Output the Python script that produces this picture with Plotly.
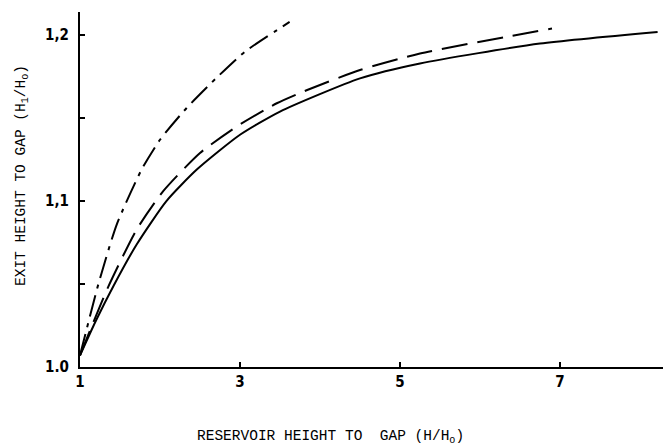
import plotly.graph_objects as go

# Data
solid_x = [1.0, 1.2, 1.42, 1.71, 2.08, 2.46, 3.0, 3.5, 4.5, 5.25, 6.75, 8.22]
solid_y = [1.007, 1.028, 1.049, 1.074, 1.100, 1.119, 1.140, 1.154, 1.174, 1.183, 1.195, 1.202]

dashed_x = [1.0, 1.35, 1.71, 2.04, 2.5, 2.96, 3.46, 3.84, 4.5, 5.25, 6.9]
dashed_y = [1.007, 1.048, 1.083, 1.106, 1.129, 1.145, 1.159, 1.167, 1.179, 1.189, 1.204]

dashdot_x = [1.0, 1.23, 1.46, 1.77, 2.0, 2.33, 2.7, 3.06, 3.62]
dashdot_y = [1.007, 1.05, 1.086, 1.119, 1.137, 1.156, 1.174, 1.19, 1.208]

x_ticks = [1, 3, 5, 7]
x_ticklabels = ["1", "3", "5", "7"]
y_ticks = [1.0, 1.1, 1.2]
y_ticklabels = ["1.0", "1,1", "1,2"]

x_title = "RESERVOIR HEIGHT TO  GAP (H/H<sub>o</sub>)"
y_title = "EXIT HEIGHT TO GAP (H<sub>1</sub>/H<sub>o</sub>)"

tick_font = dict(family="Liberation Sans Narrow, DejaVu Sans Condensed, Arial Narrow", size=15, color="black", weight="bold")
title_font = dict(family="Liberation Mono, Courier New, monospace", size=14.5, color="black")

fig = go.Figure()
fig.add_trace(go.Scatter(x=solid_x, y=solid_y, mode="lines",
                         line=dict(color="black", width=2, shape="spline", smoothing=0.6)))
fig.add_trace(go.Scatter(x=dashed_x, y=dashed_y, mode="lines",
                         line=dict(color="black", width=2, shape="spline", smoothing=0.6, dash="26px,10px")))
fig.add_trace(go.Scatter(x=dashdot_x, y=dashdot_y, mode="lines",
                         line=dict(color="black", width=2, shape="spline", smoothing=0.6, dash="22px,7px,4px,7px")))

fig.update_layout(
    width=663, height=448,
    margin=dict(l=80, r=0, t=12, b=81),
    paper_bgcolor="white", plot_bgcolor="white",
    showlegend=False,
    xaxis=dict(range=[1, 1 + 583 / 80], tickvals=x_ticks, ticktext=x_ticklabels,
               showgrid=False, zeroline=False, showline=True, linecolor="black", linewidth=2,
               ticks="inside", ticklen=5, tickwidth=1.5, tickcolor="black", tickfont=tick_font),
    yaxis=dict(range=[1.0, 1.214], tickvals=y_ticks, ticktext=y_ticklabels,
               showgrid=False, zeroline=False, showline=True, linecolor="black", linewidth=2,
               ticks="inside", ticklen=5, tickwidth=1.5, tickcolor="black", tickfont=tick_font,
               ticklabelstandoff=6,
               minor=dict(tick0=1.0, dtick=0.05, ticks="inside", ticklen=5, tickwidth=1.5,
                          tickcolor="black", showgrid=False)),
    annotations=[
        dict(text=x_title, xref="paper", yref="paper", x=(330 - 80) / 583, y=0, yshift=-70,
             xanchor="center", yanchor="middle", showarrow=False, font=title_font),
        dict(text=y_title, xref="paper", yref="paper", x=0, y=(367 - 176) / 355, xshift=-58,
             xanchor="center", yanchor="middle", showarrow=False, textangle=-90, font=title_font),
    ],
)

fig.write_html("out.html")
